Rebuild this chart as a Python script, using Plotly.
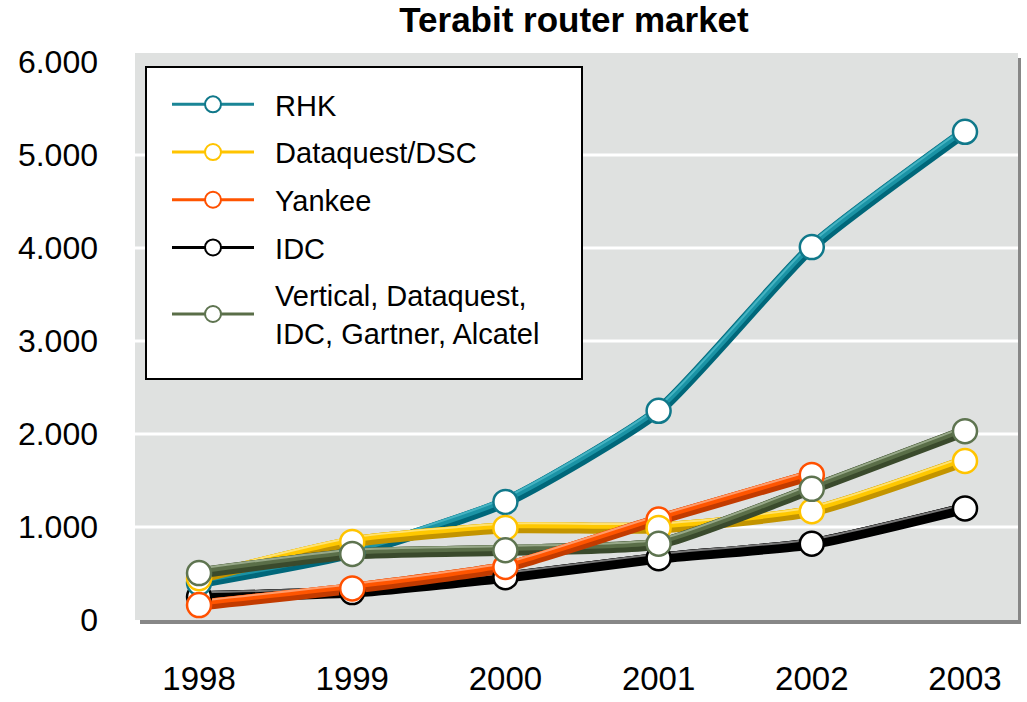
import plotly.graph_objects as go

# ---------------- data ----------------
years = [1998, 1999, 2000, 2001, 2002, 2003]
rhk = [400, 720, 1270, 2250, 4010, 5250]
dataquest = [450, 840, 990, 990, 1170, 1710]
yankee = [160, 340, 570, 1080, 1560, None]
idc = [250, 300, 460, 665, 820, 1200]
vertical = [505, 710, 750, 820, 1410, 2030]

y_tickvals = [0, 1000, 2000, 3000, 4000, 5000, 6000]
y_ticktext = ["0", "1.000", "2.000", "3.000", "4.000", "5.000", "6.000"]
grid_vals = [1000, 2000, 3000, 4000, 5000]

NB = "\u00a0\u00a0"
names = {
    "rhk": NB + "RHK",
    "dq": NB + "Dataquest/DSC",
    "yk": NB + "Yankee",
    "idc": NB + "IDC",
    "vt": NB + "Vertical, Dataquest,<br>" + NB + "IDC, Gartner, Alcatel",
}
series = {"rhk": rhk, "dq": dataquest, "yk": yankee, "idc": idc, "vt": vertical}

# ---------------- styles ----------------
# (dark, main, light, marker outline, legend line)
colors = {
    "rhk": ("#00677a", "#1b93a5", "#45b3c2", "#10788a", "#1a8596"),
    "dq": ("#c39400", "#ffc800", "#ffe270", "#ffc400", "#ffc400"),
    "yk": ("#c23b00", "#ff5500", "#ff9b6a", "#ff5000", "#ff5500"),
    "idc": ("#000000", "#000000", "#777777", "#000000", "#000000"),
    "vt": ("#3a4a2c", "#5a6e48", "#97a888", "#5e7450", "#5a6e48"),
}
line_order = ["idc", "rhk", "dq", "vt", "yk"]
marker_order = ["idc", "rhk", "yk", "dq", "vt"]
legend_order = ["rhk", "dq", "yk", "idc", "vt"]

W, H = 1027, 702
ML, MR, MT, MB = 135, 9, 53, 82
PW, PH = W - ML - MR, H - MT - MB
Y_TOP = 6097
X_RANGE = [1997.582, 2003.346]
units_per_px = Y_TOP / PH

# layers: (color index, width, upward offset px)
layers = [(0, 11, 0.0), (1, 6, 2.5), (2, 2, 4.3)]

FONT = "Liberation Sans, Arial, sans-serif"

fig = go.Figure()
layout_axes = {}
axis_n = 2

def add_axis(offset_px):
    global axis_n
    name = "yaxis%d" % axis_n
    d = offset_px * units_per_px
    layout_axes[name] = dict(overlaying="y", range=[0 - d, Y_TOP - d],
                             visible=False, fixedrange=True)
    ref = "y%d" % axis_n
    axis_n += 1
    return ref

for key in line_order:
    for ci, w, off in layers:
        ref = add_axis(off)
        fig.add_trace(go.Scatter(
            x=years, y=series[key], yaxis=ref, mode="lines",
            line=dict(color=colors[key][ci], width=w, shape="spline", smoothing=0.55),
            showlegend=False, hoverinfo="skip", connectgaps=False))

mref = add_axis(0.0)
for key in marker_order:
    fig.add_trace(go.Scatter(
        x=years, y=series[key], yaxis=mref, mode="markers",
        marker=dict(size=24, color="white", line=dict(color=colors[key][3], width=2.5)),
        showlegend=False, name=names[key].replace("<br>", " ").replace("\u00a0", "")))

# legend-only entries
for rank, key in enumerate(legend_order):
    fig.add_trace(go.Scatter(
        x=[None], y=[None], mode="lines+markers", name=names[key],
        legendgroup=key, legendrank=rank + 1,
        line=dict(color=colors[key][4], width=3),
        marker=dict(size=16, color="white", line=dict(color=colors[key][3], width=2))))

def px_x(x):
    return (x - ML) / PW

def px_y(y):
    return ((H - MB) - y) / PH

shapes = [
    # drop shadow
    dict(type="rect", xref="paper", yref="paper",
         x0=5 / PW, x1=1 + 3 / PW, y0=-4 / PH, y1=1 - 5 / PH,
         fillcolor="#878787", line=dict(width=0), layer="below"),
    # plot background
    dict(type="rect", xref="paper", yref="paper", x0=0, x1=1, y0=0, y1=1,
         fillcolor="#dfe1e0", line=dict(width=0), layer="below"),
]
for g in grid_vals:
    shapes.append(dict(type="line", xref="paper", yref="y", x0=0, x1=1, y0=g, y1=g,
                       line=dict(color="white", width=3), layer="below"))
# legend box
shapes.append(dict(type="rect", xref="paper", yref="paper",
                   x0=px_x(146), x1=px_x(582), y0=px_y(379), y1=px_y(67),
                   fillcolor="white", line=dict(color="black", width=2), layer="above"))

fig.update_layout(
    width=W, height=H,
    margin=dict(l=ML, r=MR, t=MT, b=MB, pad=0, autoexpand=False),
    paper_bgcolor="white", plot_bgcolor="rgba(0,0,0,0)",
    font=dict(family=FONT, color="black"),
    title=dict(text="<b>Terabit router market</b>", x=574 / W, xanchor="center",
               y=1 - 20 / H, yanchor="middle", yref="container",
               font=dict(family=FONT, size=35, color="black")),
    xaxis=dict(range=X_RANGE, tickvals=years, ticktext=[str(y) for y in years],
               showgrid=False, zeroline=False, showline=False, ticks="",
               tickfont=dict(size=33, color="black"), ticklabelstandoff=36,
               fixedrange=True, automargin=False),
    yaxis=dict(range=[0, Y_TOP], tickvals=y_tickvals, ticktext=y_ticktext,
               showgrid=False, zeroline=False, showline=False, ticks="",
               tickfont=dict(size=32, color="black"), ticklabelstandoff=36,
               fixedrange=True, automargin=False),
    legend=dict(x=px_x(146), y=px_y(79), xanchor="left", yanchor="top",
                bgcolor="rgba(0,0,0,0)", borderwidth=0,
                font=dict(family=FONT, size=29, color="black"),
                itemwidth=82, tracegroupgap=7, traceorder="grouped",
                indentation=21),
    shapes=shapes,
    showlegend=True,
    hovermode=False,
)
fig.update_layout(**layout_axes)

fig.write_html(
    "out.html",
    config={"displayModeBar": False, "staticPlot": True},
    post_script="document.body.style.margin='0';document.body.style.overflow='hidden';",
)
